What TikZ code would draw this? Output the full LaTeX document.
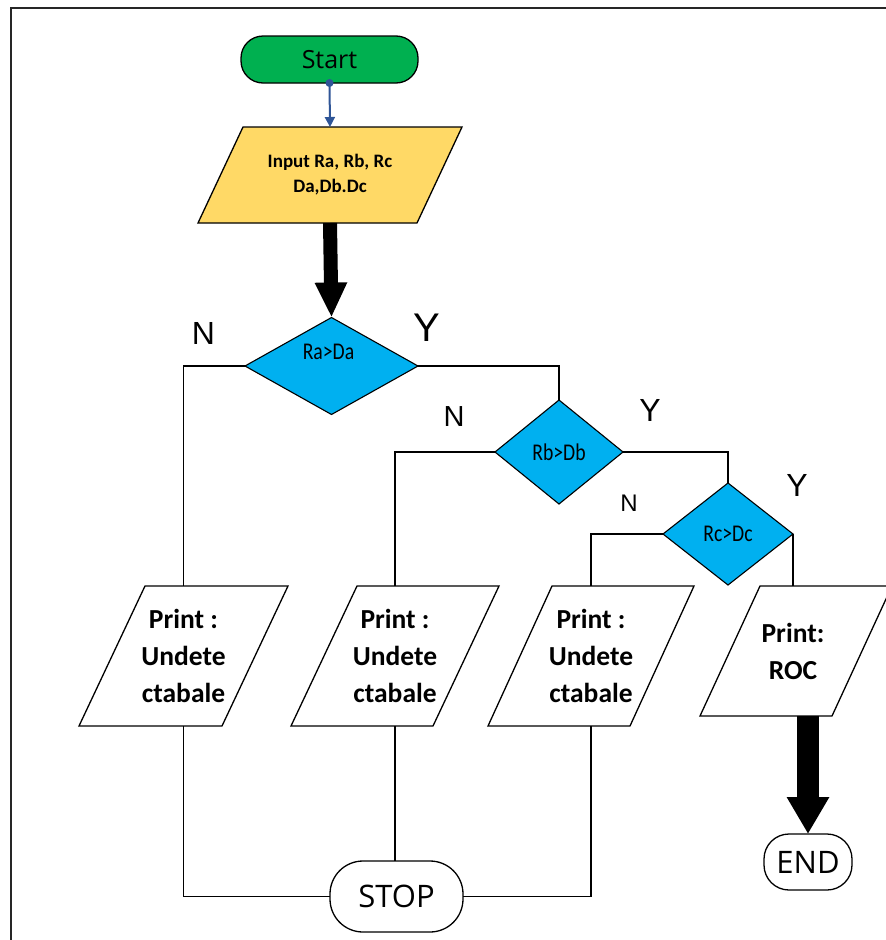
\documentclass[tikz,border=0pt]{standalone}
\usepackage{fontspec}
\setmainfont{Carlito}
\newfontfamily\osans{Open Sans}
\newfontfamily\asans{Liberation Sans}
\newfontfamily\condfont[FakeStretch=0.82]{Carlito}
\usetikzlibrary{shapes.geometric,arrows.meta,calc}
\definecolor{startgreen}{HTML}{00B050}
\definecolor{inyellow}{HTML}{FFD966}
\definecolor{decblue}{HTML}{00B0F0}
\definecolor{linkblue}{HTML}{2F5597}
\newcommand{\pgramshape}[3]{%
  \path[#3] ([xshift=#2]#1.north west) -- ([xshift=#2]#1.north east)
    -- ([xshift=-#2]#1.south east) -- ([xshift=-#2]#1.south west) -- cycle;}
\tikzset{
  ghost/.style={rectangle, inner sep=0pt, outer sep=0pt, align=center},
  pgline/.style={draw=black, line width=1.3pt, line join=miter},
  terminal/.style={rectangle, draw=black, line width=1.3pt, inner sep=0pt, outer sep=0pt},
  decision/.style={diamond, draw=black, line width=1.1pt, fill=decblue, inner sep=0pt, outer sep=0pt},
  conn/.style={draw=black, line width=1.3pt},
  yn/.style={inner sep=0pt, font=\asans},
  dtext/.style={inner sep=0pt, font=\condfont\fontsize{24}{26}\selectfont},
  ptext/.style={font=\bfseries\fontsize{27.5}{37}\selectfont},
}
\begin{document}
\begin{tikzpicture}[x=1pt,y=-1pt]
\useasboundingbox (0,0) rectangle (886,940);
\clip (0,0) rectangle (886,940);
% frame
\draw[line width=2.5pt, black!85] (11,942) -- (11,8) -- (888,8);

% start
\node[terminal, fill=startgreen, rounded corners=22pt, minimum width=177pt, minimum height=47pt,
      font=\osans\fontsize{25}{28}\selectfont] (start) at (329.5,59.5) {Start};
% input
\node[ghost, minimum width=219pt, minimum height=96pt] (input) at (330,175) {};
\pgramshape{input}{22.5pt}{pgline, fill=inyellow}
\node[ghost, font=\bfseries\fontsize{19}{25}\selectfont] (inputtext) at (input.center) {Input Ra, Rb, Rc\\Da,Db.Dc};

% decisions
\node[decision, minimum width=173pt, minimum height=97pt] (d1) at (331.5,366) {};
\node[dtext] (d1t) at ([yshift=14pt,xshift=-3pt]d1.center) {Ra>Da};
\node[decision, minimum width=128pt, minimum height=104pt] (d2) at (559,452) {};
\node[dtext] (d2t) at (d2.center) {Rb>Db};
\node[decision, minimum width=130pt, minimum height=102pt] (d3) at (728,534) {};
\node[dtext] (d3t) at (d3.center) {Rc>Dc};

% print boxes
\node[ghost, minimum width=143pt, minimum height=140pt] (p1) at (183.5,656) {};
\pgramshape{p1}{33pt}{pgline, fill=white}
\node[ghost, ptext] (p1t) at (p1.center) {Print :\\Undete\\ctabale};
\node[ghost, minimum width=142pt, minimum height=140pt] (p2) at (395,656) {};
\pgramshape{p2}{33pt}{pgline, fill=white}
\node[ghost, ptext] (p2t) at (p2.center) {Print :\\Undete\\ctabale};
\node[ghost, minimum width=142pt, minimum height=140pt] (p3) at (591,656) {};
\pgramshape{p3}{32pt}{pgline, fill=white}
\node[ghost, ptext] (p3t) at (p3.center) {Print :\\Undete\\ctabale};
\node[ghost, minimum width=132pt, minimum height=130pt] (p4) at (796,651) {};
\pgramshape{p4}{30pt}{pgline, fill=white}
\node[ghost, ptext] (p4t) at ([xshift=-3pt]p4.center) {Print:\\ROC};

% terminals
\node[terminal, fill=white, rounded corners=33pt, minimum width=133pt, minimum height=71pt,
      font=\osans\fontsize{31}{34}\selectfont] (stop) at (396.5,896.5) {STOP};
\node[terminal, fill=white, rounded corners=25pt, minimum width=88pt, minimum height=56pt,
      font=\osans\fontsize{31}{34}\selectfont] (end) at (808,862) {END};

% Y / N labels
\node[yn, font=\asans\fontsize{32}{36}\selectfont] (n1) at (203.5,333) {N};
\node[yn, font=\asans\fontsize{40}{44}\selectfont] (y1) at (427,328) {Y};
\node[yn, font=\asans\fontsize{29}{32}\selectfont] (n2) at (454,417) {N};
\node[yn, font=\asans\fontsize{32}{36}\selectfont] (y2) at (650,410) {Y};
\node[yn, font=\asans\fontsize{24}{28}\selectfont] (n3) at (629,503) {N};
\node[yn, font=\asans\fontsize{32}{36}\selectfont] (y3) at (797,485) {Y};

% connectors
\draw[linkblue, line width=2pt, -{Triangle[length=10pt,width=10pt]}] (start.south) -- (input.north);
\fill[linkblue] (start.south) circle (4pt);
\draw[line width=14pt, -{Triangle[length=35pt,width=30pt]}] (input.south) -- (d1.north);
\draw[conn] (d1.west) -| (p1.north);
\draw[conn] (d1.east) -| (d2.north);
\draw[conn] (d2.west) -| (p2.north);
\draw[conn] (d2.east) -| (d3.north);
\draw[conn] (d3.west) -| (p3.north);
\draw[conn] (d3.east) -- (d3.east |- p4.north);
\draw[line width=22pt, -{Triangle[length=37pt,width=40pt]}] (end.north |- p4.south) -- (end.north);
\draw[conn] (p1.south) |- (stop.west);
\draw[conn] (p2.south) -- (p2.south |- stop.north);
\draw[conn] (p3.south) |- (stop.east);
\end{tikzpicture}
\end{document}
